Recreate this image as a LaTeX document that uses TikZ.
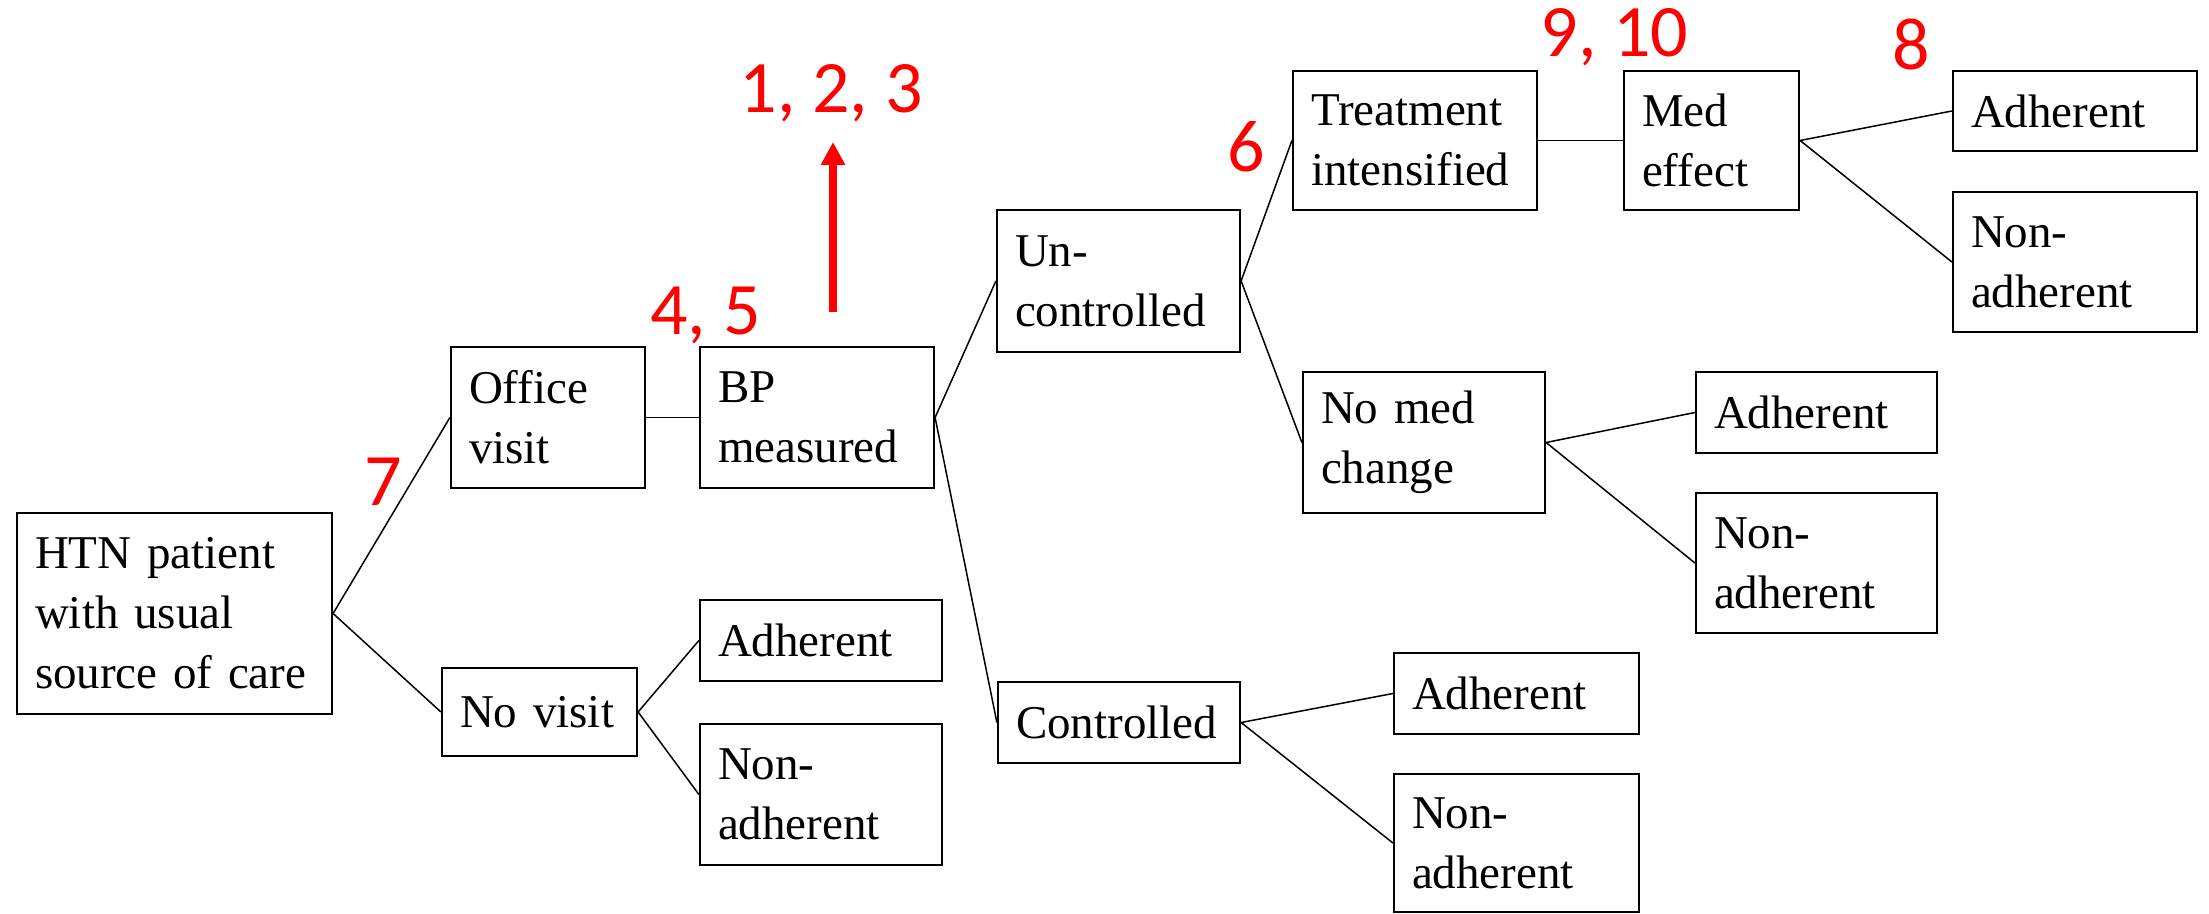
\documentclass[tikz,border=0pt]{standalone}
\usepackage{fontspec}
\setmainfont{Liberation Serif}
\newfontfamily\tnrfont{Liberation Serif}
\newfontfamily\redfont{Carlito}
\usetikzlibrary{arrows.meta}
\begin{document}
\begin{tikzpicture}[x=0.5pt,y=-0.5pt,
  box/.style={draw, line width=1.1pt, rectangle, inner xsep=9pt, inner ysep=0pt,
    align=left, font=\tnrfont\fontsize{23.5pt}{30pt}\selectfont},
  conn/.style={line width=0.75pt},
  lab/.style={text=red, font=\redfont\fontsize{37pt}{44pt}\selectfont, inner sep=0pt, anchor=base}]
\useasboundingbox (0,0) rectangle (2209,914);
% boxes
\node[box, text width=139.5pt, minimum height=100.5pt] (htn) at (174.5,613.5) {HTN patient\\with usual\\source of care};
\node[box, text width=79pt, minimum height=70.5pt] (office) at (548,417.5) {Office\\visit};
\node[box, text width=79.5pt, minimum height=44pt] (novisit) at (539.5,712) {No visit};
\node[box, text width=99pt, minimum height=70.5pt] (bp) at (817,417.5) {BP\\measured};
\node[box, text width=103pt, minimum height=40.5pt] (adh1) at (821,640.5) {Adherent};
\node[box, text width=103pt, minimum height=70.5pt] (non1) at (821,794.5) {Non-\\adherent};
\node[box, text width=103.5pt, minimum height=71pt] (unc) at (1118.5,281) {Un-\\controlled};
\node[box, text width=103pt, minimum height=40.5pt] (ctrl) at (1119,722.5) {Controlled};
\node[box, text width=104pt, minimum height=69.5pt] (treat) at (1415,140.5) {Treatment\\intensified};
\node[box, text width=103pt, minimum height=70.5pt] (nomed) at (1424,442.5) {No med\\change};
\node[box, text width=69.5pt, minimum height=69.5pt] (med) at (1711.5,140.5) {Med\\effect};
\node[box, text width=104pt, minimum height=40pt] (adh2) at (2075,111) {Adherent};
\node[box, text width=104pt, minimum height=70pt] (non2) at (2075,262) {Non-\\adherent};
\node[box, text width=102.5pt, minimum height=40.5pt] (adh3) at (1816.5,412.5) {Adherent};
\node[box, text width=102.5pt, minimum height=70pt] (non3) at (1816.5,563) {Non-\\adherent};
\node[box, text width=104.5pt, minimum height=40.5pt] (adh4) at (1516.5,693.5) {Adherent};
\node[box, text width=104.5pt, minimum height=69pt] (non4) at (1516.5,843) {Non-\\adherent};
% connectors
\draw[conn] (htn.east) -- (office.west);
\draw[conn] (htn.east) -- (novisit.west);
\draw[conn] (office.east) -- (bp.west);
\draw[conn] (novisit.east) -- (adh1.west);
\draw[conn] (novisit.east) -- (non1.west);
\draw[conn] (bp.east) -- (unc.west);
\draw[conn] (bp.east) -- (ctrl.west);
\draw[conn] (unc.east) -- (treat.west);
\draw[conn] (unc.east) -- (nomed.west);
\draw[conn] (treat.east) -- (med.west);
\draw[conn] (med.east) -- (adh2.west);
\draw[conn] (med.east) -- (non2.west);
\draw[conn] (nomed.east) -- (adh3.west);
\draw[conn] (nomed.east) -- (non3.west);
\draw[conn] (ctrl.east) -- (adh4.west);
\draw[conn] (ctrl.east) -- (non4.west);
% red labels
\node[lab] (l123) at (831,113) {1, 2, 3};
\node[lab] (l45) at (705.5,335) {4, 5};
\node[lab] (l6) at (1246,172) {6};
\node[lab] (l7) at (383,505) {7};
\node[lab] (l910) at (1614.5,57) {9, 10};
\node[lab] (l8) at (1911.5,70) {8};
\coordinate (a0) at (833,312);
\coordinate (a1) at (833,142);
\draw[red, line width=4pt, -{Triangle[width=11.5pt,length=11.5pt]}] (a0) -- (a1);
\end{tikzpicture}
\end{document}
